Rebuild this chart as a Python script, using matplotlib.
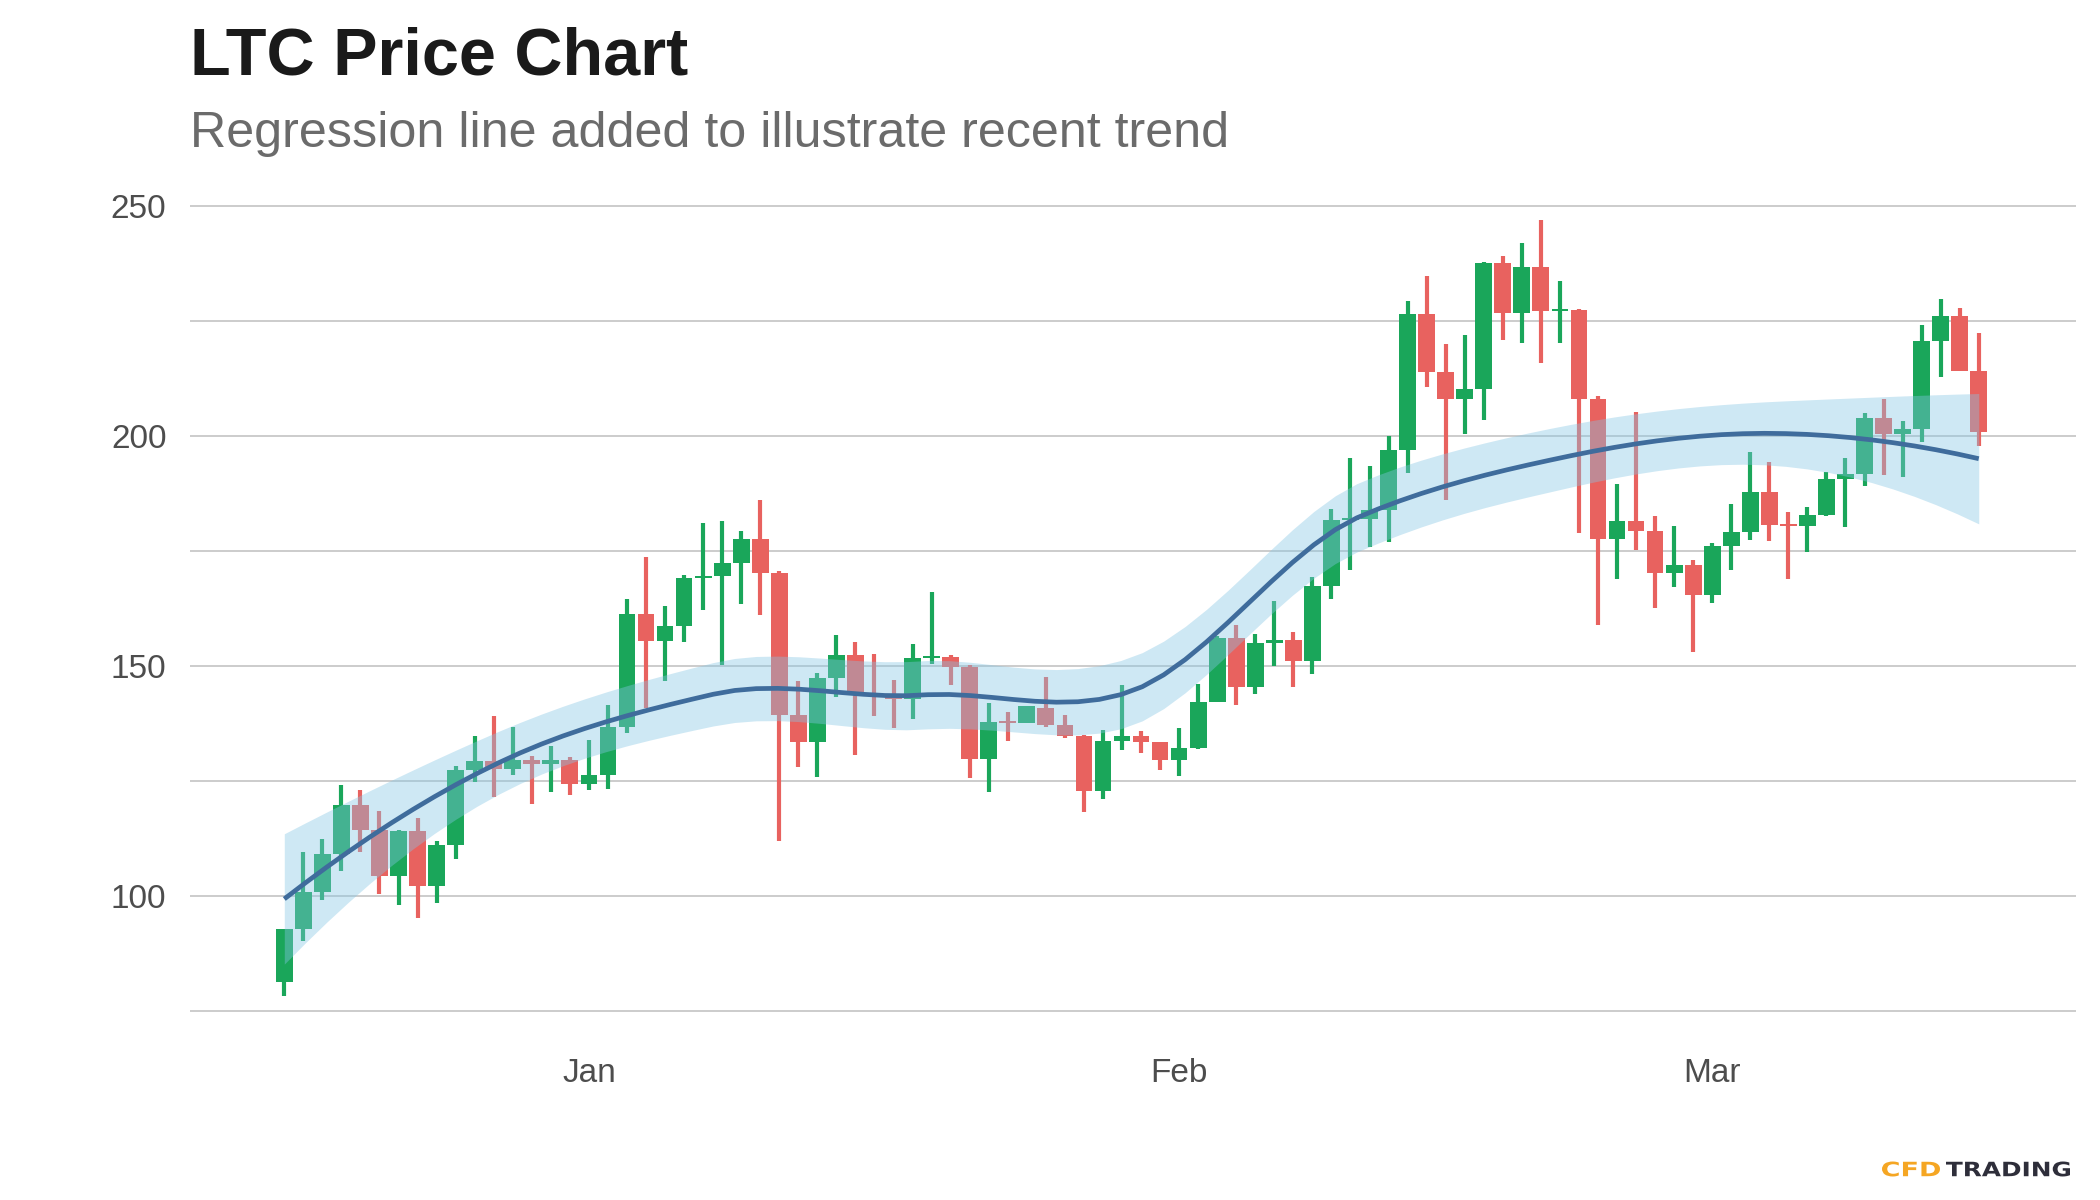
import numpy as np
import pandas as pd
import matplotlib
matplotlib.use("Agg")
import matplotlib.pyplot as plt
from matplotlib.textpath import TextPath
from matplotlib.patches import PathPatch
from matplotlib.font_manager import FontProperties
from matplotlib.transforms import Affine2D, IdentityTransform

# daily LTC candles, 16 Dec 2020 - 15 Mar 2021
start_date = "2020-12-16"
opens = [81.4, 92.9, 101.0, 109.2, 119.8, 114.4, 104.5, 114.2, 102.3, 111.2,
         127.4, 129.4, 127.6, 129.6, 128.7, 129.7, 124.3, 126.3, 136.8, 161.3,
         155.5, 158.7, 169.1, 169.5, 172.3, 177.5, 170.2, 139.4, 133.4, 147.4,
         152.4, 143.7, 143.5, 142.9, 151.8, 152.0, 149.9, 129.8, 137.9, 137.6,
         140.9, 137.2, 134.8, 122.9, 133.7, 134.7, 133.5, 129.6, 132.1, 142.1,
         156.1, 145.4, 155.1, 155.6, 151.1, 167.4, 181.7, 181.9, 183.9, 196.9,
         226.5, 213.8, 207.9, 210.2, 237.5, 226.6, 236.6, 227.1, 227.4, 207.9,
         177.5, 181.5, 179.4, 170.2, 171.9, 165.4, 176.1, 179.1, 187.7, 180.7,
         180.5, 182.8, 190.6, 191.7, 203.8, 200.3, 201.4, 220.7, 226.1, 214.0]
highs = [92.9, 109.7, 112.5, 124.2, 123.0, 118.5, 114.4, 117.0, 112.0, 128.3,
         134.8, 139.2, 136.8, 130.5, 132.6, 130.2, 133.9, 141.5, 164.5, 173.7,
         163.1, 169.7, 181.1, 181.4, 179.3, 186.1, 170.7, 146.7, 148.4, 156.7,
         155.2, 152.6, 147.0, 154.7, 166.1, 152.5, 150.3, 141.9, 140.0, 141.3,
         147.7, 139.3, 135.0, 136.2, 145.8, 135.8, 133.5, 136.6, 146.0, 156.6,
         158.9, 157.0, 164.1, 157.4, 169.3, 184.2, 195.1, 193.4, 199.9, 229.2,
         234.8, 220.0, 221.8, 237.7, 239.0, 241.9, 246.9, 233.7, 227.6, 208.6,
         189.5, 205.2, 182.5, 180.4, 173.0, 176.7, 185.3, 196.5, 194.3, 183.4,
         184.6, 192.1, 195.1, 205.0, 207.9, 203.2, 224.1, 229.8, 227.7, 222.3]
lows = [78.4, 90.3, 99.2, 105.4, 109.7, 100.6, 98.2, 95.3, 98.5, 108.1,
        124.8, 121.6, 126.3, 120.0, 122.7, 122.0, 123.1, 123.4, 135.4, 140.8,
        146.8, 155.2, 162.1, 150.2, 163.4, 161.0, 111.9, 128.0, 125.8, 143.3,
        130.6, 139.2, 136.5, 138.4, 150.4, 145.8, 125.6, 122.7, 133.7, 137.6,
        136.8, 134.3, 118.2, 121.1, 131.8, 131.2, 127.4, 126.1, 132.0, 142.1,
        141.5, 143.9, 150.1, 145.5, 148.2, 164.6, 170.9, 175.9, 177.0, 192.0,
        210.6, 186.0, 200.3, 203.5, 220.9, 220.2, 215.9, 220.2, 178.8, 158.9,
        169.0, 175.2, 162.7, 167.2, 153.1, 163.7, 170.9, 177.3, 177.1, 168.8,
        174.7, 182.5, 180.1, 189.2, 191.5, 191.1, 198.7, 212.7, 214.0, 197.8]
closes = [92.9, 101.0, 109.2, 119.8, 114.4, 104.5, 114.2, 102.3, 111.2, 127.4,
          129.4, 127.6, 129.6, 128.7, 129.7, 124.3, 126.3, 136.8, 161.3, 155.5,
          158.7, 169.1, 169.5, 172.3, 177.5, 170.2, 139.4, 133.4, 147.4, 152.4,
          143.7, 143.5, 142.9, 151.8, 152.0, 149.9, 129.8, 137.9, 137.6, 141.3,
          137.2, 134.8, 122.9, 133.7, 134.7, 133.5, 129.6, 132.1, 142.1, 156.1,
          145.4, 155.1, 155.6, 151.1, 167.4, 181.7, 181.9, 183.9, 196.9, 226.5,
          213.8, 207.9, 210.2, 237.5, 226.6, 236.6, 227.1, 227.4, 207.9, 177.5,
          181.5, 179.4, 170.2, 171.9, 165.4, 176.1, 179.1, 187.7, 180.7, 180.5,
          182.8, 190.6, 191.7, 203.8, 200.3, 201.4, 220.7, 226.1, 214.0, 200.8]

y_ticks = [100, 150, 200, 250]
month_labels = ["Jan", "Feb", "Mar"]

df = pd.DataFrame({"open": opens, "high": highs, "low": lows, "close": closes},
                  index=pd.date_range(start_date, periods=len(closes), freq="D"))
x = np.arange(len(df), dtype=float)
y = df["close"].values

GREEN = "#1AA65A"
RED = "#E8625F"


def local_rows(xd, x0, q):
    # local quadratic fit at x0, tricube weights -> rows for value and slope
    d = np.abs(xd - x0)
    h = np.sort(d)[q - 1]
    w = np.clip(1 - (d / h) ** 3, 0, None) ** 3
    X = np.vstack([np.ones_like(xd), xd - x0, (xd - x0) ** 2]).T
    XtW = X.T * w
    A = np.linalg.solve(XtW @ X, XtW)
    return A[0], A[1]


def kd_vertices(xd, fc):
    # split cells at the median like loess' kd tree
    lo, hi = xd.min(), xd.max()
    mu = 0.005 * (hi - lo)
    verts = {lo - mu, hi + mu}

    def split(pts):
        if len(pts) <= fc:
            return
        m = (len(pts) + 1) // 2
        v = (pts[m - 1] + pts[m]) / 2
        verts.add(v)
        split(pts[pts <= v])
        split(pts[pts > v])

    split(np.sort(xd))
    return np.array(sorted(verts))


def loess_interp(xd, xe, span=0.75, cell=0.2):
    n = len(xd)
    q = int(np.floor(n * span))
    fc = int(np.floor(n * span * cell))
    vx = kd_vertices(xd, fc)
    rows = [local_rows(xd, v, q) for v in vx]
    out = np.zeros((len(xe), n))
    for i, xx in enumerate(xe):
        j = min(max(np.searchsorted(vx, xx) - 1, 0), len(vx) - 2)
        a, b = vx[j], vx[j + 1]
        hh = b - a
        t = (xx - a) / hh
        h00 = 2 * t ** 3 - 3 * t ** 2 + 1
        h10 = t ** 3 - 2 * t ** 2 + t
        h01 = -2 * t ** 3 + 3 * t ** 2
        h11 = t ** 3 - t ** 2
        out[i] = (h00 * rows[j][0] + h10 * hh * rows[j][1]
                  + h01 * rows[j + 1][0] + h11 * hh * rows[j + 1][1])
    return out


L_data = loess_interp(x, x)
fit_data = L_data @ y
R = np.eye(len(x)) - L_data
d1 = np.trace(R.T @ R)
sigma = np.sqrt(np.sum((y - fit_data) ** 2) / d1)

xs = np.linspace(0, len(x) - 1, 80)
L_s = loess_interp(x, xs)
fit = L_s @ y
se = sigma * np.sqrt(np.sum(L_s ** 2, axis=1))

plt.rcParams["font.family"] = ["Liberation Sans", "DejaVu Sans"]

fig = plt.figure(figsize=(21, 12), dpi=100)
ax = fig.add_axes([0.0905, 0.138, 0.898, 0.711])

# candles
up = df["close"] >= df["open"]
colors = np.where(up, GREEN, RED)
ax.vlines(x, df["low"], df["high"], color=colors, linewidth=3.0, zorder=2)
body_low = np.minimum(df["open"], df["close"])
body_h = np.maximum(np.abs(df["close"] - df["open"]), 0.45)
ax.bar(x, body_h, bottom=body_low, width=0.88, color=colors, linewidth=0, zorder=3)

# regression band + line
ax.fill_between(xs, fit - 1.99 * se, fit + 1.99 * se, color="#85C6E4", alpha=0.4,
                linewidth=0, zorder=4)
ax.plot(xs, fit, color="#3F6C9C", linewidth=3.4, zorder=5, solid_capstyle="butt")

ax.set_xlim(-4.95, 94.1)
ax.set_ylim(70, 255.3)

ax.set_yticks(y_ticks)
ax.set_yticks([75, 125, 175, 225], minor=True)
month_pos = [x[i] for i, d in enumerate(df.index) if d.day == 1]
ax.set_xticks(month_pos)
ax.set_xticklabels(month_labels)

ax.grid(axis="y", which="both", color="#CCCCCC", linewidth=1.4)
ax.set_axisbelow(True)
for s in ax.spines.values():
    s.set_visible(False)
ax.tick_params(axis="both", which="both", length=0, labelsize=24, labelcolor="#4D4D4D")
ax.tick_params(axis="y", pad=17)
ax.tick_params(axis="x", pad=17)

fig.text(0.0905, 0.938, "LTC Price Chart", fontsize=48, fontweight="bold",
         color="#1A1A1A", va="baseline", ha="left")
fig.text(0.0905, 0.8775, "Regression line added to illustrate recent trend",
         fontsize=36.2, color="#6B6B6B", va="baseline", ha="left")

# logo: wide bold lettering fitted into pixel boxes
logo_font = FontProperties(family="DejaVu Sans", weight="bold")
for word, x0, x1, col in [("CFD", 1882, 1940, "#F5A623"),
                          ("TRADING", 1946, 2070, "#2E2E3A")]:
    tp = TextPath((0, 0), word, size=20, prop=logo_font)
    ext = tp.get_extents()
    y0, y1 = 1200 - 1176.5, 1200 - 1161.5
    tr = (Affine2D().translate(-ext.x0, -ext.y0)
          .scale((x1 - x0) / ext.width, (y1 - y0) / ext.height)
          .translate(x0, y0))
    fig.patches.append(PathPatch(tr.transform_path(tp), color=col, lw=0,
                                 transform=IdentityTransform(), figure=fig))

fig.savefig("out.png", dpi=100)
